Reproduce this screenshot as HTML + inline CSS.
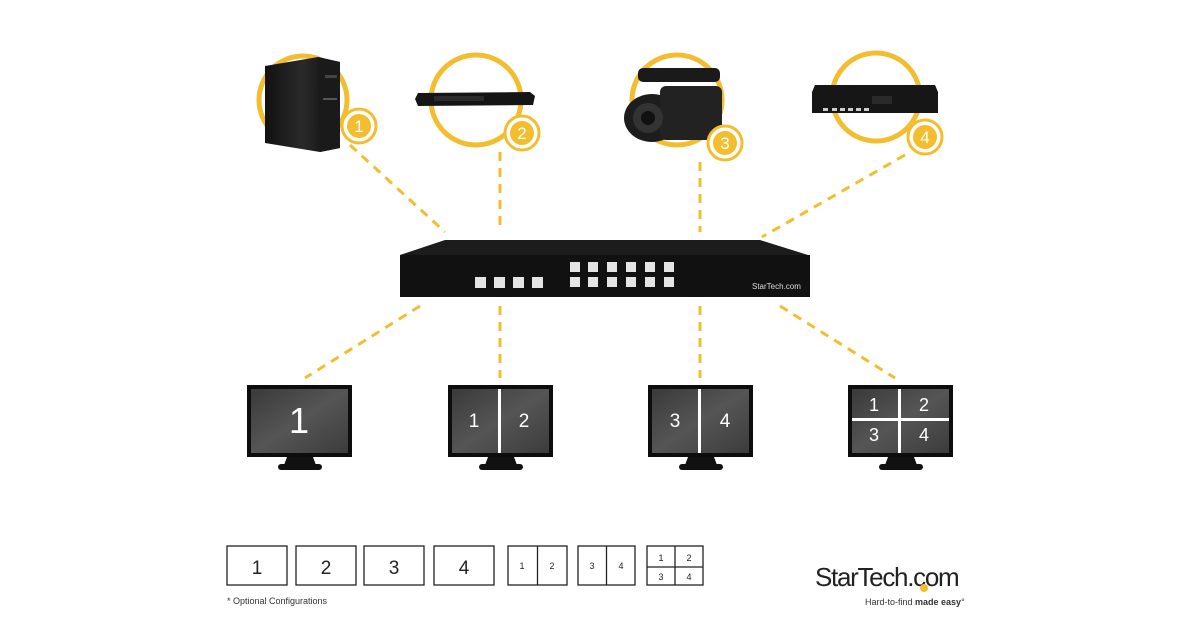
<!DOCTYPE html>
<html><head><meta charset="utf-8"><style>
html,body{margin:0;padding:0;background:#fff;}
svg{display:block;}
text{font-family:"Liberation Sans",sans-serif;}
</style></head><body>
<svg width="1200" height="630" viewBox="0 0 1200 630" xmlns="http://www.w3.org/2000/svg">
<defs>
<linearGradient id="scr" x1="0" y1="0" x2="1" y2="1"><stop offset="0" stop-color="#3a3a3a"/><stop offset="0.5" stop-color="#555"/><stop offset="1" stop-color="#3c3c3c"/></linearGradient>
<linearGradient id="blk" x1="0" y1="0" x2="1" y2="0"><stop offset="0" stop-color="#111"/><stop offset="0.5" stop-color="#2a2a2a"/><stop offset="1" stop-color="#0a0a0a"/></linearGradient>
</defs>
<g fill="none" stroke="#f2bd2e" stroke-width="3" stroke-dasharray="9,7">
<line x1="350" y1="145" x2="445" y2="232"/>
<line x1="500" y1="152" x2="500" y2="232"/>
<line x1="700" y1="162" x2="700" y2="232"/>
<line x1="905" y1="155" x2="762" y2="237"/>
<line x1="420" y1="306" x2="305" y2="378"/>
<line x1="500" y1="306" x2="500" y2="378"/>
<line x1="700" y1="306" x2="700" y2="378"/>
<line x1="780" y1="306" x2="895" y2="378"/>
</g>
<g fill="none" stroke="#f2bd2e" stroke-width="5">
<circle cx="303" cy="100" r="44"/>
<circle cx="476" cy="100" r="45"/>
<circle cx="677" cy="100" r="45"/>
<circle cx="876" cy="97" r="44"/>
</g>
<!-- devices -->
<polygon points="265,66 318,57 340,62 340,148 320,152 265,143" fill="url(#blk)"/>
<polygon points="318,57 340,62 340,148 320,152" fill="#1a1a1a"/>
<rect x="325" y="75" width="12" height="3" fill="#444"/>
<rect x="323" y="98" width="14" height="2" fill="#555"/>
<polygon points="418,93 530,92 535,96 533,105 418,106 415,99" fill="#151515"/>
<rect x="434" y="96" width="50" height="5" fill="#2b2b2b"/>
<ellipse cx="652" cy="118" rx="28" ry="24" fill="#1d1d1d"/>
<rect x="660" y="86" width="62" height="54" rx="6" fill="#222"/>
<rect x="638" y="68" width="82" height="14" rx="5" fill="#1a1a1a"/>
<circle cx="648" cy="118" r="15" fill="#333"/><circle cx="648" cy="118" r="7" fill="#111"/>
<polygon points="815,85 935,85 938,92 938,113 812,113 812,92" fill="#161616"/>
<rect x="872" y="96" width="20" height="8" fill="#2a2a2a"/>
<g fill="#ccc"><rect x="823" y="108" width="5" height="3"/><rect x="832" y="108" width="5" height="3"/><rect x="840" y="108" width="5" height="3"/><rect x="848" y="108" width="5" height="3"/><rect x="856" y="108" width="5" height="3"/><rect x="864" y="108" width="5" height="3"/></g>
<!-- badges -->
<g>
<circle cx="359" cy="126" r="17" fill="#fff" stroke="#f2bd2e" stroke-width="3"/><circle cx="359" cy="126" r="12" fill="#f2bd2e"/>
<circle cx="522" cy="133" r="17" fill="#fff" stroke="#f2bd2e" stroke-width="3"/><circle cx="522" cy="133" r="12" fill="#f2bd2e"/>
<circle cx="725" cy="143" r="17" fill="#fff" stroke="#f2bd2e" stroke-width="3"/><circle cx="725" cy="143" r="12" fill="#f2bd2e"/>
<circle cx="925" cy="137" r="17" fill="#fff" stroke="#f2bd2e" stroke-width="3"/><circle cx="925" cy="137" r="12" fill="#f2bd2e"/>
</g>
<g fill="#fff" font-size="17" text-anchor="middle">
<text x="359" y="132">1</text><text x="522" y="139">2</text><text x="725" y="149">3</text><text x="925" y="143">4</text>
</g>
<!-- switch -->
<polygon points="445,240 760,240 808,255 400,255" fill="#1c1c1c"/>
<rect x="400" y="255" width="410" height="42" fill="#111"/>
<g fill="#e4e4e4">
<rect x="475" y="277" width="11" height="11"/><rect x="494" y="277" width="11" height="11"/><rect x="513" y="277" width="11" height="11"/><rect x="532" y="277" width="11" height="11"/>
<rect x="570" y="262" width="10" height="10"/><rect x="588" y="262" width="10" height="10"/><rect x="607" y="262" width="10" height="10"/><rect x="626" y="262" width="10" height="10"/><rect x="645" y="262" width="10" height="10"/><rect x="664" y="262" width="10" height="10"/>
<rect x="570" y="277" width="10" height="10"/><rect x="588" y="277" width="10" height="10"/><rect x="607" y="277" width="10" height="10"/><rect x="626" y="277" width="10" height="10"/><rect x="645" y="277" width="10" height="10"/><rect x="664" y="277" width="10" height="10"/>
</g>
<text x="752" y="289" font-size="8" fill="#ddd">StarTech.com</text>
<!-- monitors -->
<g id="mon">
<rect x="247" y="385" width="105" height="72" fill="#0d0d0d"/>
<rect x="251" y="389" width="97" height="64" fill="url(#scr)"/>
<polygon points="287,457 313,457 316,465 284,465" fill="#111"/>
<rect x="278" y="464" width="44" height="6" rx="3" fill="#111"/>
</g>
<use href="#mon" x="201"/><use href="#mon" x="401"/><use href="#mon" x="601"/>
<g fill="#fff">
<rect x="498" y="389" width="3" height="64"/><rect x="698" y="389" width="3" height="64"/>
<rect x="898" y="389" width="3" height="64"/><rect x="852" y="418" width="97" height="3"/>
</g>
<g fill="#fff" text-anchor="middle">
<text x="299" y="433" font-size="36">1</text>
<text x="474" y="427" font-size="19">1</text><text x="524" y="427" font-size="19">2</text>
<text x="675" y="427" font-size="19">3</text><text x="725" y="427" font-size="19">4</text>
<text x="874" y="411" font-size="18">1</text><text x="924" y="411" font-size="18">2</text>
<text x="874" y="441" font-size="18">3</text><text x="924" y="441" font-size="18">4</text>
</g>
<!-- configs -->
<g fill="none" stroke="#222" stroke-width="1.3">
<rect x="227" y="546" width="60" height="39"/><rect x="296" y="546" width="60" height="39"/>
<rect x="364" y="546" width="60" height="39"/><rect x="434" y="546" width="60" height="39"/>
<rect x="508" y="546" width="59" height="39"/><line x1="537.5" y1="546" x2="537.5" y2="585"/>
<rect x="578" y="546" width="57" height="39"/><line x1="606.5" y1="546" x2="606.5" y2="585"/>
<rect x="647" y="546" width="56" height="39"/><line x1="675" y1="546" x2="675" y2="585"/><line x1="647" y1="567" x2="703" y2="567"/>
</g>
<g fill="#222" text-anchor="middle">
<text x="257" y="574" font-size="19">1</text><text x="326" y="574" font-size="19">2</text>
<text x="394" y="574" font-size="19">3</text><text x="464" y="574" font-size="19">4</text>
<text x="522" y="569" font-size="9">1</text><text x="552" y="569" font-size="9">2</text>
<text x="592" y="569" font-size="9">3</text><text x="621" y="569" font-size="9">4</text>
<text x="661" y="561" font-size="9">1</text><text x="689" y="561" font-size="9">2</text>
<text x="661" y="580" font-size="9">3</text><text x="689" y="580" font-size="9">4</text>
</g>
<text x="227" y="604" font-size="9" fill="#333">* Optional Configurations</text>
<text x="815" y="586" font-size="26" fill="#222" letter-spacing="-1.3">StarTech.com</text>
<circle cx="924" cy="588" r="4" fill="#f2bd2e"/>
<text x="865" y="605" font-size="9" fill="#333">Hard-to-find <tspan font-weight="bold">made easy</tspan>°</text>
</svg>
</body></html>
